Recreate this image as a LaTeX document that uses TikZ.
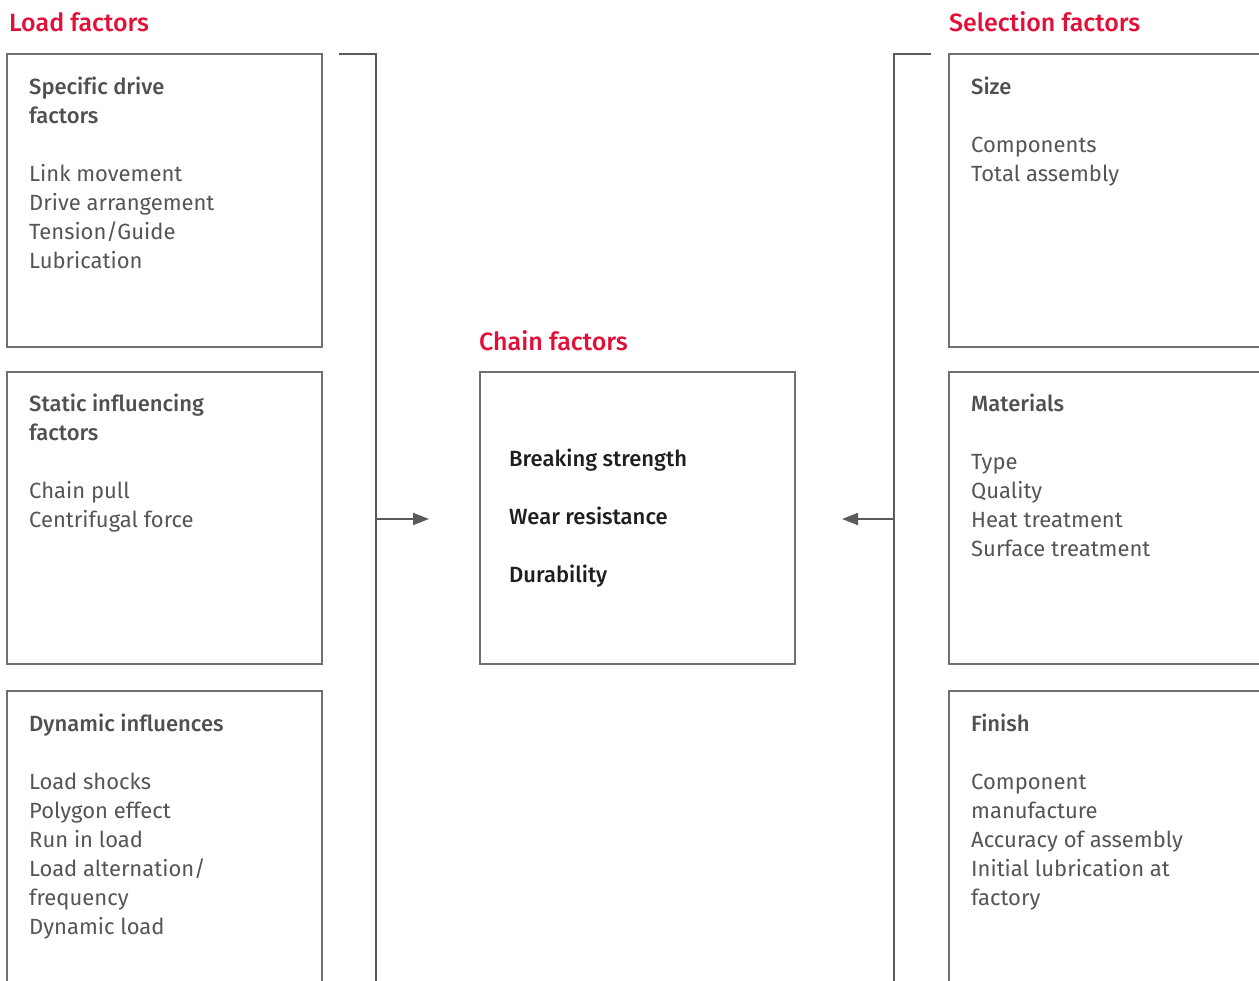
\documentclass[tikz,border=0pt]{standalone}
\usepackage{fontspec}
\setmainfont{Fira Sans}[Ligatures=NoCommon]
\newfontfamily\medfont{Fira Sans Medium}[Ligatures=NoCommon]
\usetikzlibrary{arrows.meta}
\definecolor{brandred}{RGB}{226,16,56}
\definecolor{framegray}{RGB}{112,112,112}
\definecolor{linegray}{RGB}{90,90,90}
\definecolor{textgray}{RGB}{85,85,85}
\definecolor{headgray}{RGB}{80,80,80}
\definecolor{keytext}{RGB}{30,30,30}
\newcommand{\hd}[1]{{\medfont\color{headgray}#1}}
\tikzset{
  x=1pt, y=-1pt,
  panel/.style={draw=framegray, line width=1.3pt},
  bracket/.style={draw=linegray, line width=1.8pt},
  flow/.style={draw=linegray, line width=1.8pt, -{Triangle[length=16pt,width=12pt]}},
  grouptitle/.style={anchor=base west, inner sep=0pt, text=brandred, font=\medfont\fontsize{25}{30}\selectfont},
  boxtext/.style={anchor=base west, inner sep=0pt, text=textgray, font=\fontsize{22}{29}\selectfont},
  keytext/.style={anchor=base west, inner sep=0pt, text=keytext, font=\medfont\fontsize{22}{29}\selectfont},
}
% top-aligned block of lines; its baseline is that of the first line
\newcommand{\lines}[1]{\parbox[t]{300pt}{\fontsize{22}{29}\selectfont\raggedright\leavevmode #1}}
\begin{document}
\begin{tikzpicture}
\clip (0,0) rectangle (1259,981);
\fill[white] (0,0) rectangle (1259,981);

% group titles
\node[grouptitle] (tload) at (9,32) {Load factors};
\node[grouptitle] (tsel) at (949,32) {Selection factors};
\node[grouptitle] (tchain) at (479,351) {Chain factors};

% left column: load factors
\draw[panel] (7,54) rectangle (322,347);
\draw[panel] (7,372) rectangle (322,664);
\draw[panel] (7,691) rectangle (322,1000);
\node[boxtext] (drive) at (29,95) {\lines{\hd{Specific drive}\\\hd{factors}\\[29pt]Link movement\\Drive arrangement\\Tension/Guide\\Lubrication}};
\node[boxtext] (static) at (29,412) {\lines{\hd{Static influencing}\\\hd{factors}\\[29pt]Chain pull\\Centrifugal force}};
\node[boxtext] (dynamic) at (29,731) {\lines{\hd{Dynamic influences}\\[29pt]Load shocks\\Polygon effect\\Run in load\\Load alternation/\\frequency\\Dynamic load}};

% right column: selection factors
\draw[panel] (949,54) rectangle (1280,347);
\draw[panel] (949,372) rectangle (1280,664);
\draw[panel] (949,691) rectangle (1280,1000);
\node[boxtext] (size) at (971,95) {\lines{\hd{Size}\\[29pt]Components\\Total assembly}};
\node[boxtext] (materials) at (971,412) {\lines{\hd{Materials}\\[29pt]Type\\Quality\\Heat treatment\\Surface treatment}};
\node[boxtext] (finish) at (971,731) {\lines{\hd{Finish}\\[29pt]Component\\manufacture\\Accuracy of assembly\\Initial lubrication at\\factory}};

% centre: chain factors
\draw[panel] (480,372) rectangle (795,664);
\node[keytext] (strength) at (509,467) {Breaking strength};
\node[keytext] (wear) at (509,525) {Wear resistance};
\node[keytext] (dura) at (509,582) {Durability};

% brackets collecting each column
\coordinate (lbtop) at (339,54);
\coordinate (lbcorner) at (376,54);
\coordinate (lbbottom) at (376,1000);
\coordinate (lbmid) at (376,519);
\coordinate (lin) at (429,519);
\coordinate (rbtop) at (931,54);
\coordinate (rbcorner) at (894,54);
\coordinate (rbbottom) at (894,1000);
\coordinate (rbmid) at (894,519);
\coordinate (rin) at (842,519);

\draw[bracket] (lbtop) -- (lbcorner) -- (lbbottom);
\draw[bracket] (rbtop) -- (rbcorner) -- (rbbottom);
\draw[flow] (lbmid) -- (lin);
\draw[flow] (rbmid) -- (rin);
\end{tikzpicture}
\end{document}
